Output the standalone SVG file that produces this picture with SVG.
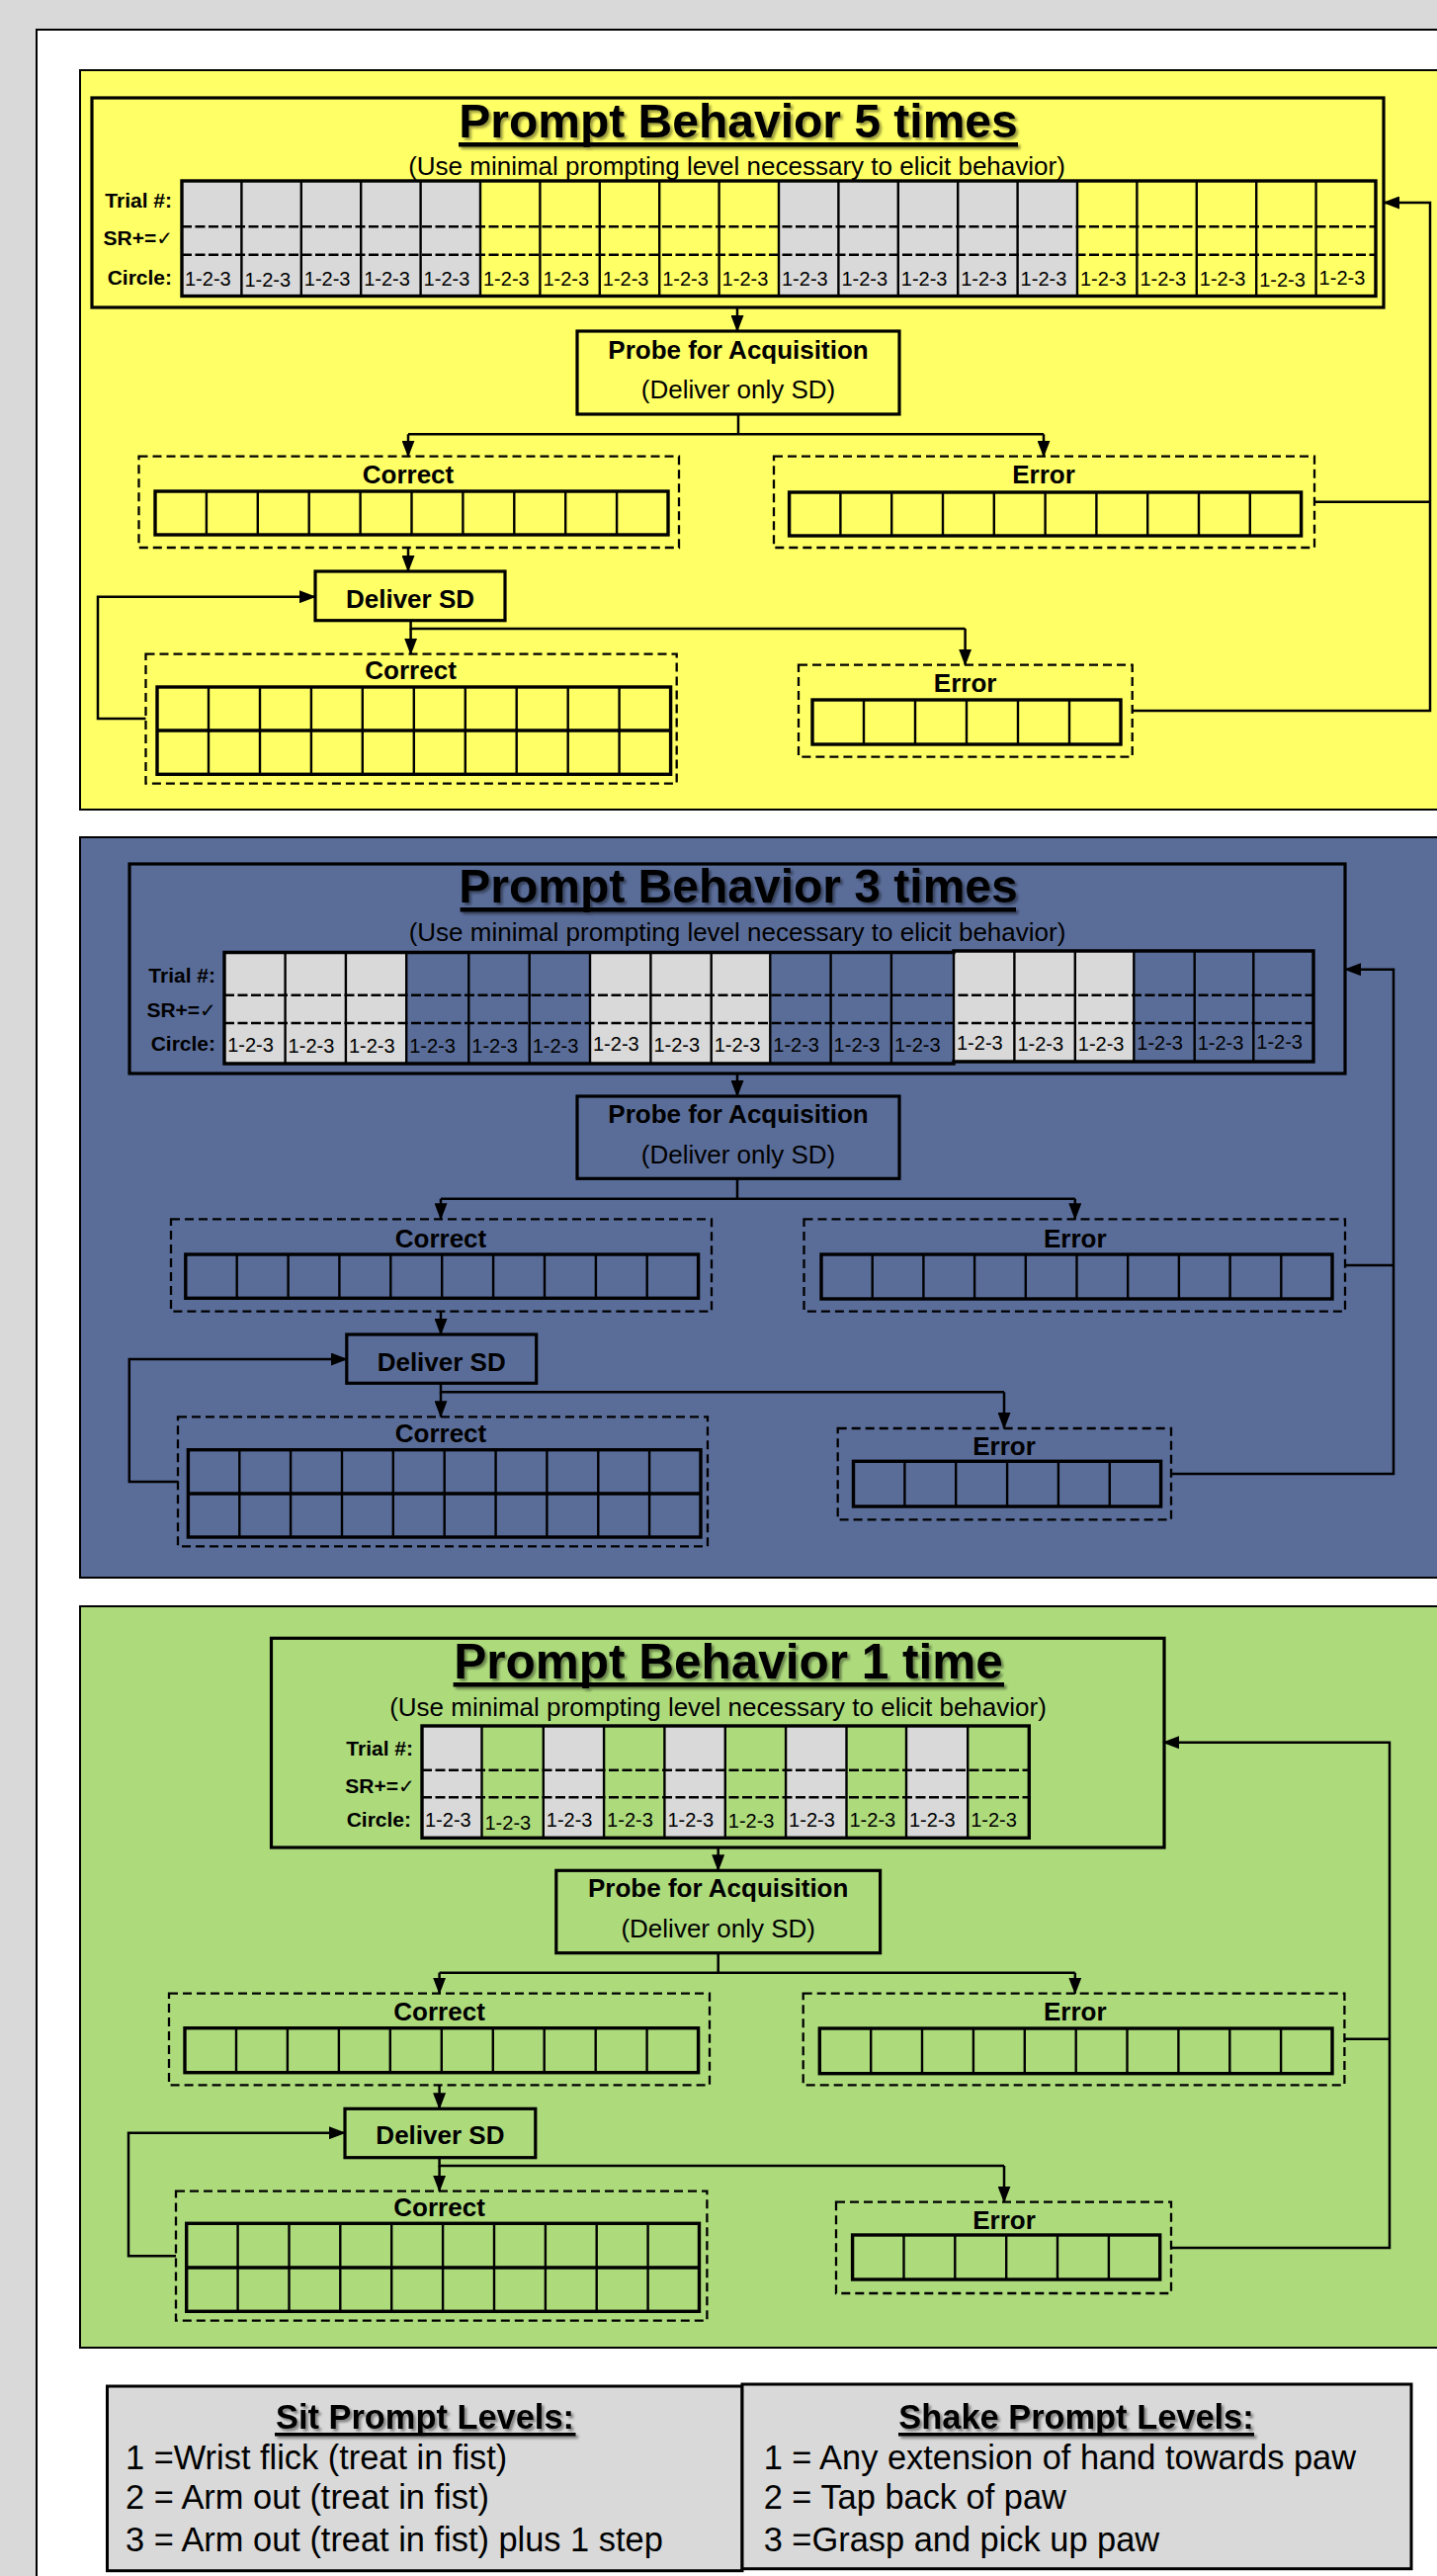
<svg xmlns="http://www.w3.org/2000/svg" width="1454" height="2606" viewBox="0 0 1454 2606">
<style>
.conn{fill:none;stroke:#000;stroke-width:2.5}
.tbox{fill:none;stroke:#000;stroke-width:3.2}
.box{fill:none;stroke:#000;stroke-width:3.2}
.dash{fill:none;stroke:#000;stroke-width:2.3;stroke-dasharray:9 5}
.cb{fill:none;stroke:#000;stroke-width:3.4}
.cl{fill:none;stroke:#000;stroke-width:2.4}
.tl{fill:none;stroke:#000;stroke-width:2.4;stroke-dasharray:10 3.5}
.gray{fill:#d9d9d9}
text{font-family:"Liberation Sans",Arial,sans-serif;fill:#000}
.ttl{font-size:48px;font-weight:bold;text-anchor:middle}
.sub{font-size:26px;text-anchor:middle}
.lbl{font-size:26px;font-weight:bold;text-anchor:middle}
.lbr{font-size:26px;text-anchor:middle}
.rl{font-size:21px;font-weight:bold;text-anchor:end}
.rs{font-size:21px;font-weight:bold}
.d{font-size:20px}
.lgt{font-size:34.4px;font-weight:bold;text-anchor:middle}
.lg{font-size:34.4px}
.ck{font-family:"DejaVu Sans",sans-serif;font-size:20px}
</style>
<defs>
<marker id="ah" markerUnits="userSpaceOnUse" markerWidth="17" markerHeight="13" refX="16" refY="6.5" orient="auto"><path d="M0,0 L17,6.5 L0,13 z" fill="#000"/></marker>
<filter id="sh" x="-5%" y="-20%" width="110%" height="150%"><feDropShadow dx="2.5" dy="2.5" stdDeviation="1.2" flood-color="#000" flood-opacity="0.4"/></filter>
</defs>

<rect x="0" y="0" width="1454" height="2606" fill="#d9d9d9"/>
<rect x="37" y="30" width="1500" height="2700" fill="#fff" stroke="#000" stroke-width="2"/>

<!-- section panels -->
<rect x="81" y="71" width="1450" height="748" fill="#ffff66" stroke="#000" stroke-width="2"/>
<rect x="81" y="847" width="1450" height="749" fill="#5a6d99" stroke="#000" stroke-width="2"/>
<rect x="81" y="1625" width="1450" height="750" fill="#addb7c" stroke="#000" stroke-width="2"/>

<!-- ===== YELLOW SECTION ===== -->
<g id="title5">
<rect class="tbox" x="93" y="99" width="1307" height="212"/>
<g filter="url(#sh)">
<text class="ttl" x="747" y="139">Prompt Behavior 5 times</text>
<rect x="464" y="144" width="566" height="4.5" fill="#000"/>
</g>
<text class="sub" x="745.5" y="177">(Use minimal prompting level necessary to elicit behavior)</text>
<rect class="gray" x="184" y="183" width="302" height="116.5"/>
<rect class="gray" x="788" y="183" width="302" height="116.5"/>
<path class="tl" d="M184,229.3H1392M184,257.7H1392"/>
<path class="cl" d="M244.4,183V299.5M304.8,183V299.5M365.2,183V299.5M425.6,183V299.5M486,183V299.5M546.4,183V299.5M606.8,183V299.5M667.2,183V299.5M727.6,183V299.5M788,183V299.5M848.4,183V299.5M908.8,183V299.5M969.2,183V299.5M1029.6,183V299.5M1090,183V299.5M1150.4,183V299.5M1210.8,183V299.5M1271.2,183V299.5M1331.6,183V299.5"/>
<rect class="cb" x="184" y="183" width="1208" height="116.5"/>
<text class="rl" x="174" y="210">Trial #:</text>
<text class="rs" x="104.6" y="248">SR+=<tspan class="ck">✓</tspan></text>
<text class="rl" x="174" y="288">Circle:</text>
<text class="d" x="187" y="289">1-2-3</text><text class="d" x="247.4" y="290">1-2-3</text><text class="d" x="307.8" y="289">1-2-3</text><text class="d" x="368.2" y="289">1-2-3</text><text class="d" x="428.6" y="289">1-2-3</text>
<text class="d" x="489" y="289">1-2-3</text><text class="d" x="549.4" y="289">1-2-3</text><text class="d" x="609.8" y="289">1-2-3</text><text class="d" x="670.2" y="289">1-2-3</text><text class="d" x="730.6" y="289">1-2-3</text>
<text class="d" x="791" y="289">1-2-3</text><text class="d" x="851.4" y="289">1-2-3</text><text class="d" x="911.8" y="289">1-2-3</text><text class="d" x="972.2" y="289">1-2-3</text><text class="d" x="1032.6" y="289">1-2-3</text>
<text class="d" x="1093" y="289">1-2-3</text><text class="d" x="1153.4" y="289">1-2-3</text><text class="d" x="1213.8" y="289">1-2-3</text><text class="d" x="1274.2" y="290">1-2-3</text><text class="d" x="1334.6" y="288">1-2-3</text>
</g>

<g id="probe5">
<rect class="box" x="584" y="335" width="326" height="84"/>
<text class="lbl" x="747" y="362.7">Probe for Acquisition</text>
<text class="lbr" x="747" y="402.7">(Deliver only SD)</text>
</g>

<g id="correct5a">
<rect class="dash" x="140.5" y="461.7" width="546.5" height="92.3"/>
<text class="lbl" x="413" y="489">Correct</text>
<path class="cl" d="M208.9,497V541M260.8,497V541M312.7,497V541M364.6,497V541M416.5,497V541M468.4,497V541M520.3,497V541M572.2,497V541M624.1,497V541"/>
<rect class="cb" x="157" y="497" width="519" height="44"/>
</g>

<g id="error5a">
<rect class="dash" x="783" y="461.7" width="547" height="92.3"/>
<text class="lbl" x="1056" y="489">Error</text>
<path class="cl" d="M850.4,498V542M902.2,498V542M954,498V542M1005.8,498V542M1057.6,498V542M1109.4,498V542M1161.2,498V542M1213,498V542M1264.8,498V542"/>
<rect class="cb" x="798.6" y="498" width="518" height="44"/>
</g>

<g id="deliver5">
<rect class="box" x="319" y="578" width="192" height="49.7"/>
<text class="lbl" x="415" y="615">Deliver SD</text>
</g>

<g id="correct5b">
<rect class="dash" x="147.5" y="661.7" width="537.2" height="131"/>
<text class="lbl" x="415.6" y="686.7">Correct</text>
<path class="cl" d="M211,695V783.3M263,695V783.3M314.9,695V783.3M366.8,695V783.3M418.8,695V783.3M470.8,695V783.3M522.7,695V783.3M574.7,695V783.3M626.6,695V783.3"/>
<path class="cb" d="M159,739H678.6"/>
<rect class="cb" x="159" y="695" width="519.6" height="88.3"/>
</g>

<g id="error5b">
<rect class="dash" x="808" y="672.7" width="337.7" height="93"/>
<text class="lbl" x="976.6" y="700">Error</text>
<path class="cl" d="M874,708V753M926,708V753M978,708V753M1030,708V753M1082,708V753"/>
<rect class="cb" x="822" y="708" width="312" height="45"/>
</g>

<!-- ===== BLUE SECTION ===== -->
<g id="title3">
<rect class="tbox" x="131" y="874" width="1230" height="212"/>
<g filter="url(#sh)">
<text class="ttl" x="747" y="913">Prompt Behavior 3 times</text>
<rect x="465.6" y="918" width="562.4" height="4.5" fill="#000"/>
</g>
<text class="sub" x="746" y="951.7">(Use minimal prompting level necessary to elicit behavior)</text>
<rect class="gray" x="227.2" y="963.5" width="184" height="112.5"/>
<rect class="gray" x="597" y="963.5" width="182.3" height="112.5"/>
<rect class="gray" x="965" y="962" width="182.3" height="112"/>
<path class="tl" d="M227,1006.7H1329M227,1035H1329"/>
<path class="cl" d="M288.6,963.5V1076M349.9,963.5V1076M411.2,963.5V1076M474.3,963.5V1076M535.7,963.5V1076M597,963.5V1076M658.4,963.5V1076M719.7,963.5V1076M779.3,963.5V1076M840.6,963.5V1076M901.9,963.5V1076M965,962V1076M1026.4,962V1074M1087.8,962V1074M1147.3,962V1074M1208.7,962V1074M1268.3,962V1074"/>
<path class="cb" d="M227,963.5H965V962H1329V1074H965V1076H227Z"/>
<text class="rl" x="218" y="994">Trial #:</text>
<text class="rs" x="148.4" y="1029">SR+=<tspan class="ck">✓</tspan></text>
<text class="rl" x="218" y="1063">Circle:</text>
<text class="d" x="230.2" y="1064">1-2-3</text><text class="d" x="291.6" y="1065">1-2-3</text><text class="d" x="352.9" y="1065">1-2-3</text>
<text class="d" x="414.2" y="1065">1-2-3</text><text class="d" x="477.3" y="1065">1-2-3</text><text class="d" x="538.7" y="1065">1-2-3</text>
<text class="d" x="600" y="1063">1-2-3</text><text class="d" x="661.4" y="1064">1-2-3</text><text class="d" x="722.7" y="1064">1-2-3</text>
<text class="d" x="782.3" y="1064">1-2-3</text><text class="d" x="843.6" y="1064">1-2-3</text><text class="d" x="904.9" y="1064">1-2-3</text>
<text class="d" x="968" y="1062">1-2-3</text><text class="d" x="1029.4" y="1063">1-2-3</text><text class="d" x="1090.8" y="1063">1-2-3</text>
<text class="d" x="1150.3" y="1062">1-2-3</text><text class="d" x="1211.7" y="1062">1-2-3</text><text class="d" x="1271.3" y="1061">1-2-3</text>
</g>

<g id="probe3">
<rect class="box" x="584" y="1109" width="326" height="83.3"/>
<text class="lbl" x="747" y="1136">Probe for Acquisition</text>
<text class="lbr" x="747" y="1176.7">(Deliver only SD)</text>
</g>

<g id="correct3a">
<rect class="dash" x="173" y="1233.3" width="547" height="93.4"/>
<text class="lbl" x="446" y="1261.7">Correct</text>
<path class="cl" d="M239.7,1269V1313.3M291.6,1269V1313.3M343.4,1269V1313.3M395.3,1269V1313.3M447.2,1269V1313.3M499.1,1269V1313.3M551,1269V1313.3M602.9,1269V1313.3M654.7,1269V1313.3"/>
<rect class="cb" x="187.8" y="1269" width="518.8" height="44.3"/>
</g>

<g id="error3a">
<rect class="dash" x="813.5" y="1233.3" width="547.5" height="93.4"/>
<text class="lbl" x="1087.8" y="1261.7">Error</text>
<path class="cl" d="M882.7,1269V1314M934.4,1269V1314M986.1,1269V1314M1037.8,1269V1314M1089.5,1269V1314M1141.2,1269V1314M1192.9,1269V1314M1244.6,1269V1314M1296.3,1269V1314"/>
<rect class="cb" x="831" y="1269" width="517" height="45"/>
</g>

<g id="deliver3">
<rect class="box" x="350.8" y="1350" width="191.9" height="49.3"/>
<text class="lbl" x="446.7" y="1387">Deliver SD</text>
</g>

<g id="correct3b">
<rect class="dash" x="180" y="1433.3" width="536" height="131"/>
<text class="lbl" x="446" y="1459.3">Correct</text>
<path class="cl" d="M242.3,1466.7V1555M294.1,1466.7V1555M346,1466.7V1555M397.8,1466.7V1555M449.7,1466.7V1555M501.6,1466.7V1555M553.4,1466.7V1555M605.3,1466.7V1555M657.1,1466.7V1555"/>
<path class="cb" d="M190.4,1511H709"/>
<rect class="cb" x="190.4" y="1466.7" width="518.6" height="88.3"/>
</g>

<g id="error3b">
<rect class="dash" x="847.7" y="1445" width="337.3" height="92.3"/>
<text class="lbl" x="1016" y="1471.7">Error</text>
<path class="cl" d="M915.4,1478.3V1524M967.2,1478.3V1524M1019.1,1478.3V1524M1070.9,1478.3V1524M1122.8,1478.3V1524"/>
<rect class="cb" x="863.5" y="1478.3" width="311.1" height="45.7"/>
</g>

<!-- ===== GREEN SECTION ===== -->
<g id="title1">
<rect class="tbox" x="274.5" y="1657.3" width="903.5" height="211.7"/>
<g filter="url(#sh)">
<text class="ttl" x="737" y="1698" style="font-size:49.5px">Prompt Behavior 1 time</text>
<rect x="458.6" y="1702" width="557.4" height="4.5" fill="#000"/>
</g>
<text class="sub" x="726.5" y="1736">(Use minimal prompting level necessary to elicit behavior)</text>
<rect class="gray" x="427" y="1746" width="60.5" height="113.3"/>
<rect class="gray" x="549.8" y="1746" width="61.3" height="113.3"/>
<rect class="gray" x="672.4" y="1746" width="61.4" height="113.3"/>
<rect class="gray" x="795.1" y="1746" width="61.4" height="113.3"/>
<rect class="gray" x="917" y="1746" width="62.2" height="113.3"/>
<path class="tl" d="M427,1790.7H1041.3M427,1818.3H1041.3"/>
<path class="cl" d="M487.5,1746V1859.3M549.8,1746V1859.3M611.1,1746V1859.3M672.4,1746V1859.3M733.8,1746V1859.3M795.1,1746V1859.3M856.5,1746V1859.3M917,1746V1859.3M979.2,1746V1859.3"/>
<rect class="cb" x="427" y="1746" width="614.3" height="113.3"/>
<text class="rl" x="418" y="1776">Trial #:</text>
<text class="rs" x="349.3" y="1814">SR+=<tspan class="ck">✓</tspan></text>
<text class="rl" x="416" y="1848">Circle:</text>
<text class="d" x="430" y="1848">1-2-3</text><text class="d" x="490.5" y="1850.5">1-2-3</text><text class="d" x="552.8" y="1848">1-2-3</text><text class="d" x="614.1" y="1848">1-2-3</text><text class="d" x="675.4" y="1848">1-2-3</text>
<text class="d" x="736.8" y="1849">1-2-3</text><text class="d" x="798.1" y="1848">1-2-3</text><text class="d" x="859.5" y="1848">1-2-3</text><text class="d" x="920" y="1848">1-2-3</text><text class="d" x="982.2" y="1848">1-2-3</text>
</g>

<g id="probe1">
<rect class="box" x="562.8" y="1892.3" width="327.8" height="83.4"/>
<text class="lbl" x="726.7" y="1919.3">Probe for Acquisition</text>
<text class="lbr" x="726.7" y="1960">(Deliver only SD)</text>
</g>

<g id="correct1a">
<rect class="dash" x="171" y="2016.7" width="547" height="92.6"/>
<text class="lbl" x="444.6" y="2044">Correct</text>
<path class="cl" d="M239,2051.7V2096.7M290.9,2051.7V2096.7M342.9,2051.7V2096.7M394.8,2051.7V2096.7M446.8,2051.7V2096.7M498.8,2051.7V2096.7M550.7,2051.7V2096.7M602.7,2051.7V2096.7M654.6,2051.7V2096.7"/>
<rect class="cb" x="187" y="2051.7" width="519.6" height="45"/>
</g>

<g id="error1a">
<rect class="dash" x="812.7" y="2016.7" width="547.7" height="92.6"/>
<text class="lbl" x="1087.8" y="2044">Error</text>
<path class="cl" d="M881.2,2052V2097.7M933,2052V2097.7M984.9,2052V2097.7M1036.8,2052V2097.7M1088.7,2052V2097.7M1140.5,2052V2097.7M1192.4,2052V2097.7M1244.3,2052V2097.7M1296.1,2052V2097.7"/>
<rect class="cb" x="829.3" y="2052" width="518.7" height="45.7"/>
</g>

<g id="deliver1">
<rect class="box" x="349" y="2133.3" width="192.8" height="49.4"/>
<text class="lbl" x="445.4" y="2169.3">Deliver SD</text>
</g>

<g id="correct1b">
<rect class="dash" x="178" y="2216.7" width="537.4" height="131"/>
<text class="lbl" x="444.6" y="2241.7">Correct</text>
<path class="cl" d="M240.6,2249.3V2338.3M292.5,2249.3V2338.3M344.3,2249.3V2338.3M396.2,2249.3V2338.3M448.1,2249.3V2338.3M500,2249.3V2338.3M551.9,2249.3V2338.3M603.7,2249.3V2338.3M655.6,2249.3V2338.3"/>
<path class="cb" d="M188.7,2294H707.5"/>
<rect class="cb" x="188.7" y="2249.3" width="518.8" height="89"/>
</g>

<g id="error1b">
<rect class="dash" x="846" y="2227.7" width="339" height="92.3"/>
<text class="lbl" x="1016" y="2255">Error</text>
<path class="cl" d="M914.5,2261V2306M966.3,2261V2306M1018.2,2261V2306M1070,2261V2306M1121.9,2261V2306"/>
<rect class="cb" x="862.6" y="2261" width="311.1" height="45"/>
</g>

<!-- ===== CONNECTORS ===== -->
<g id="connectors">
<path class="conn" d="M746,311V335" marker-end="url(#ah)"/>
<path class="conn" d="M747,419V439.3"/>
<path class="conn" d="M413,439.3H1056"/>
<path class="conn" d="M413,439.3V461.7" marker-end="url(#ah)"/>
<path class="conn" d="M1056,439.3V461.7" marker-end="url(#ah)"/>
<path class="conn" d="M413,554V578" marker-end="url(#ah)"/>
<path class="conn" d="M415.6,627.7V636H976.6"/>
<path class="conn" d="M415.6,636V661.7" marker-end="url(#ah)"/>
<path class="conn" d="M976.6,636V672.7" marker-end="url(#ah)"/>
<path class="conn" d="M147.5,727H99V603.7H319" marker-end="url(#ah)"/>
<path class="conn" d="M1330,507.7H1447"/>
<path class="conn" d="M1145.7,719H1447V205H1400" marker-end="url(#ah)"/>

<path class="conn" d="M746,1086V1109" marker-end="url(#ah)"/>
<path class="conn" d="M746,1192.3V1212.7"/>
<path class="conn" d="M446,1212.7H1087.8"/>
<path class="conn" d="M446,1212.7V1233.3" marker-end="url(#ah)"/>
<path class="conn" d="M1087.8,1212.7V1233.3" marker-end="url(#ah)"/>
<path class="conn" d="M446,1326.7V1350" marker-end="url(#ah)"/>
<path class="conn" d="M446,1399.3V1408.3H1016"/>
<path class="conn" d="M446,1408.3V1433.3" marker-end="url(#ah)"/>
<path class="conn" d="M1016,1408.3V1445" marker-end="url(#ah)"/>
<path class="conn" d="M180,1499H130.8V1375H350.8" marker-end="url(#ah)"/>
<path class="conn" d="M1361,1280H1410"/>
<path class="conn" d="M1185,1491H1410V980.7H1361" marker-end="url(#ah)"/>

<path class="conn" d="M726.7,1869V1892.3" marker-end="url(#ah)"/>
<path class="conn" d="M726.7,1975.7V1995.7"/>
<path class="conn" d="M444.6,1995.7H1087.8"/>
<path class="conn" d="M444.6,1995.7V2016.7" marker-end="url(#ah)"/>
<path class="conn" d="M1087.8,1995.7V2016.7" marker-end="url(#ah)"/>
<path class="conn" d="M444.6,2109.3V2133.3" marker-end="url(#ah)"/>
<path class="conn" d="M444.6,2182.7V2191H1016"/>
<path class="conn" d="M444.6,2191V2216.7" marker-end="url(#ah)"/>
<path class="conn" d="M1016,2191V2227.7" marker-end="url(#ah)"/>
<path class="conn" d="M178,2282.3H130V2157.7H349" marker-end="url(#ah)"/>
<path class="conn" d="M1360.4,2062.7H1406"/>
<path class="conn" d="M1185,2274H1406V1762.7H1177" marker-end="url(#ah)"/>
</g>

<!-- ===== LEGEND ===== -->
<g id="legend-sit">
<rect x="108.5" y="2414" width="642.5" height="186.7" fill="#d9d9d9" stroke="#000" stroke-width="3"/>
<g filter="url(#sh)">
<text class="lgt" x="430" y="2457.3">Sit Prompt Levels:</text>
<rect x="278" y="2461" width="304.5" height="3.5" fill="#000"/>
</g>
<text class="lg" x="127" y="2498.3">1 =Wrist flick (treat in fist)</text>
<text class="lg" x="127" y="2538.3">2 = Arm out (treat in fist)</text>
<text class="lg" x="127" y="2580.7">3 = Arm out (treat in fist) plus 1 step</text>
</g>
<g id="legend-shake">
<rect x="751" y="2412" width="677" height="186.7" fill="#d9d9d9" stroke="#000" stroke-width="3"/>
<g filter="url(#sh)">
<text class="lgt" x="1089" y="2457.3">Shake Prompt Levels:</text>
<rect x="909" y="2461" width="360" height="3.5" fill="#000"/>
</g>
<text class="lg" x="772.7" y="2498.3">1 = Any extension of hand towards paw</text>
<text class="lg" x="772.7" y="2538.3">2 = Tap back of paw</text>
<text class="lg" x="772.7" y="2580.7">3 =Grasp and pick up paw</text>
</g>
</svg>
